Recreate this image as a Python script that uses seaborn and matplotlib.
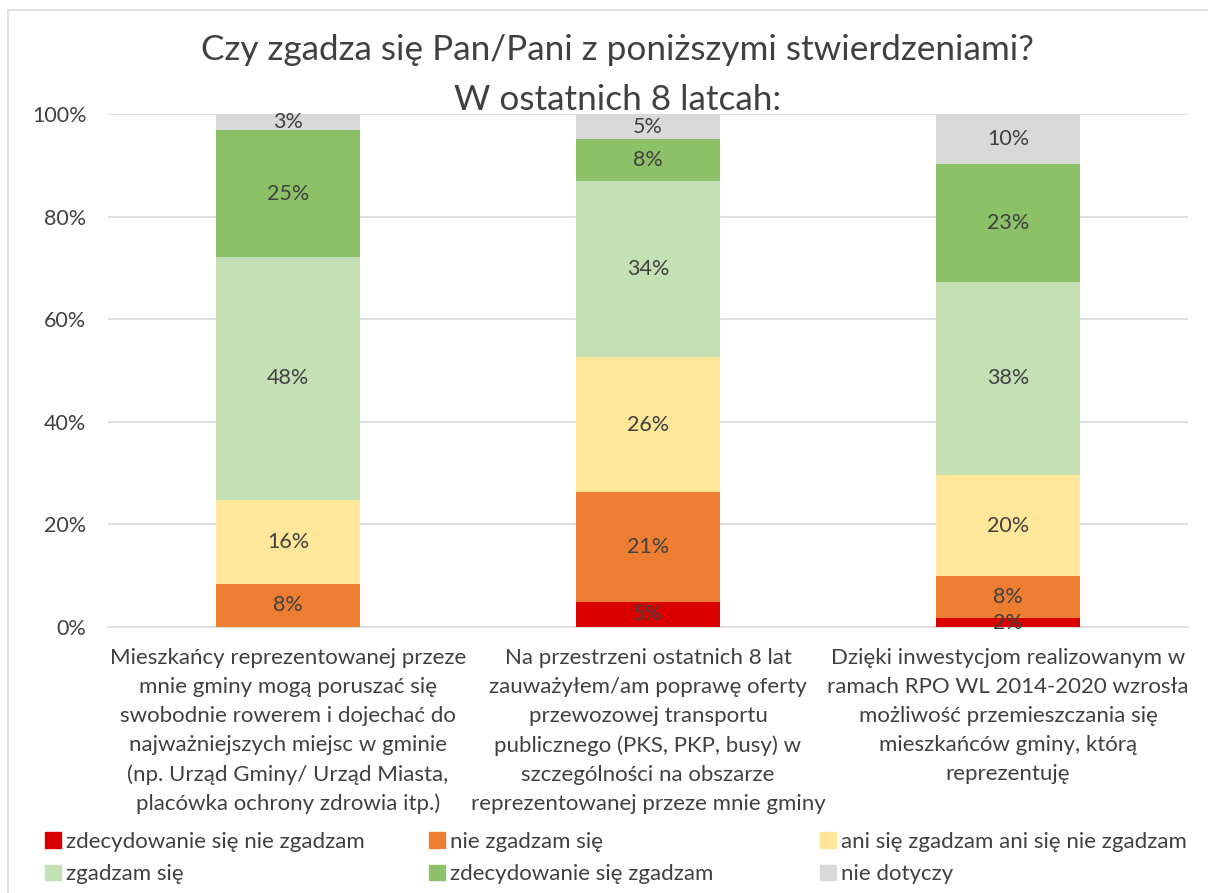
import pandas as pd
import matplotlib.pyplot as plt
import matplotlib.patches as mpatches
import seaborn as sns

# dane (udziały w %)
pytania = [
    "Mieszkańcy reprezentowanej przeze\nmnie gminy mogą poruszać się\nswobodnie rowerem i dojechać do\nnajważniejszych miejsc w gminie\n(np. Urząd Gminy/ Urząd Miasta,\nplacówka ochrony zdrowia itp.)",
    "Na przestrzeni ostatnich 8 lat\nzauważyłem/am poprawę oferty\nprzewozowej transportu\npublicznego (PKS, PKP, busy) w\nszczególności na obszarze\nreprezentowanej przeze mnie gminy",
    "Dzięki inwestycjom realizowanym w\nramach RPO WL 2014-2020 wzrosła\nmożliwość przemieszczania się\nmieszkańców gminy, którą\nreprezentuję",
]
odpowiedzi = ["zdecydowanie się nie zgadzam", "nie zgadzam się",
              "ani się zgadzam ani się nie zgadzam", "zgadzam się",
              "zdecydowanie się zgadzam", "nie dotyczy"]
zdecydowanie_nie = [0.0, 4.9, 1.7]
nie_zgadzam = [8.4, 21.4, 8.2]
ani_ani = [16.3, 26.3, 19.7]
zgadzam = [47.5, 34.3, 37.7]
zdecydowanie_tak = [24.6, 8.2, 23.0]
nie_dotyczy = [3.2, 4.9, 9.7]
kolory = ["#DA0000", "#ED7D31", "#FFE699", "#C5E0B4", "#8CC168", "#D9D9D9"]

serie = [zdecydowanie_nie, nie_zgadzam, ani_ani, zgadzam, zdecydowanie_tak, nie_dotyczy]
df = pd.DataFrame({"pytanie": pytania})
for nazwa, wartosci in zip(odpowiedzi, serie):
    df[nazwa] = [v / 100 for v in wartosci]
cum = df[odpowiedzi].cumsum(axis=1)

sns.set_style("white")
plt.rcParams["font.family"] = ["Lato", "DejaVu Sans"]
szary = "#404040"

fig = plt.figure(figsize=(12.08, 8.93), dpi=100)
ax = fig.add_axes([108 / 1208, 1 - 627 / 893, 1080 / 1208, 513 / 893])
fig.patches.append(mpatches.Rectangle((8 / 1208, -0.01), 1.1, 1 - 10 / 893 + 0.01,
                                      transform=fig.transFigure, fill=False,
                                      edgecolor="#d9d9d9", linewidth=1.2))

# rysowanie od najwyższej sumy skumulowanej w dół
for i in range(len(odpowiedzi) - 1, -1, -1):
    sns.barplot(x=df["pytanie"], y=cum[odpowiedzi[i]], color=kolory[i], width=0.4,
                saturation=1, ax=ax, zorder=3, linewidth=0)

for j in range(len(pytania)):
    dol = 0
    for i, nazwa in enumerate(odpowiedzi):
        v = df[nazwa][j]
        if v > 0:
            ax.text(j, dol + v / 2, f"{round(v * 100):.0f}%", ha="center", va="center",
                    fontsize=15.5, color=szary, zorder=5)
        dol += v

ax.set_ylim(0, 1)
ax.set_xlim(-0.5, 2.5)
ax.set_yticks([0, 0.2, 0.4, 0.6, 0.8, 1.0])
ax.set_yticklabels(["0%", "20%", "40%", "60%", "80%", "100%"], fontsize=15.5, color=szary)
ax.set_xticks(range(3))
ax.set_xticklabels(pytania, fontsize=16, color=szary, linespacing=1.56)
ax.tick_params(axis="y", length=0, pad=15.5)
ax.tick_params(axis="x", length=0, pad=15)
ax.set_xlabel("")
ax.set_ylabel("")
ax.yaxis.grid(True, color="#d9d9d9", linewidth=1.2, zorder=0)
ax.set_axisbelow(True)
for s in ["left", "right", "top"]:
    ax.spines[s].set_visible(False)
ax.spines["bottom"].set_color("#d9d9d9")
ax.spines["bottom"].set_linewidth(1.2)

fig.text(0.511, 1 - 75 / 893, "Czy zgadza się Pan/Pani z poniższymi stwierdzeniami?\nW ostatnich 8 latcah:",
         ha="center", va="center", fontsize=25.3, color=szary, linespacing=1.7)

# legenda: trzy kolumny w stałych miejscach, po dwa wpisy w każdej
handles = [mpatches.Patch(color=c, label=l) for c, l in zip(kolory, odpowiedzi)]
kolumny_x = [45, 429, 820]
for k, x0 in enumerate(kolumny_x):
    fig.legend([handles[k], handles[k + 3]], [odpowiedzi[k], odpowiedzi[k + 3]],
               loc="upper left", bbox_to_anchor=(x0 / 1208, 1 - 832 / 893),
               frameon=False, fontsize=16, labelcolor=szary, handlelength=0.7,
               handleheight=0.7, handletextpad=0.25, labelspacing=0.55,
               borderaxespad=0, borderpad=0)

fig.savefig("out.png", dpi=100)
